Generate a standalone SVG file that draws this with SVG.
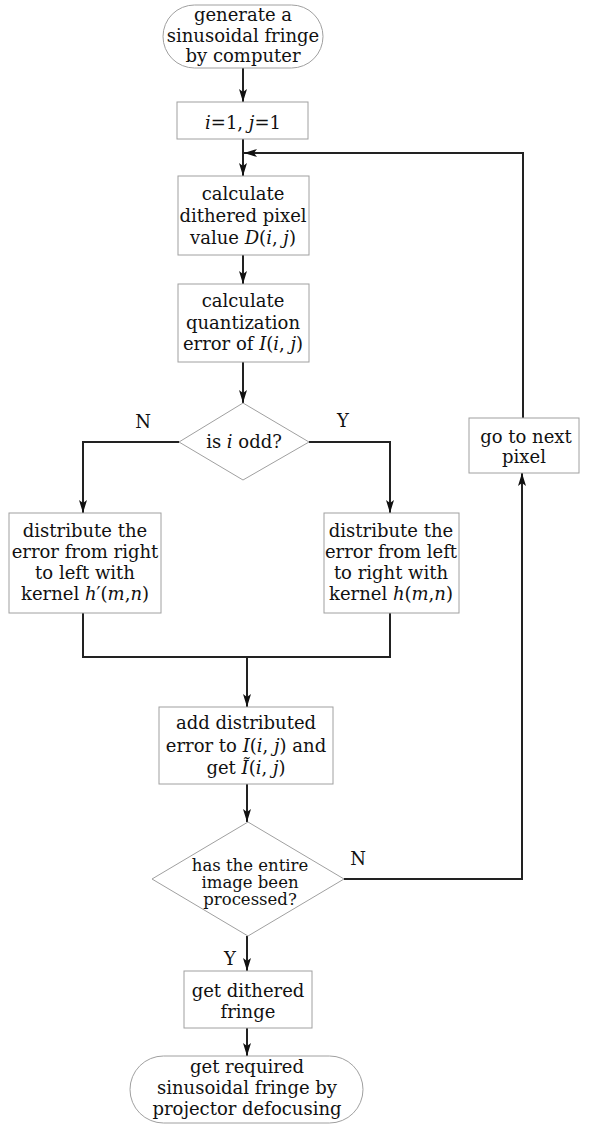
<svg xmlns="http://www.w3.org/2000/svg" width="604" height="1126" viewBox="0 0 604 1126">
<defs>
<style>
.n{fill:#fff;stroke:#a0a0a0;stroke-width:1}
.t{font-family:"DejaVu Serif","Liberation Serif",serif;font-size:18px;fill:#111;text-anchor:middle}
.s{font-size:16.5px}
.i{font-style:italic}
.c{fill:none;stroke:#222;stroke-width:2}
.lab{font-family:"DejaVu Serif","Liberation Serif",serif;font-size:18px;fill:#111;text-anchor:middle}
</style>
<marker id="ah" viewBox="0 0 13 8" refX="13" refY="4" markerWidth="13" markerHeight="8" orient="auto" markerUnits="userSpaceOnUse">
<path d="M0,0 L13,4 L0,8 L3,4 z" fill="#111"/>
</marker>
</defs>
<rect width="604" height="1126" fill="#fff"/>

<g id="connectors">
<path class="c" d="M243,68 V102" marker-end="url(#ah)"/>
<path class="c" d="M243,139 V176" marker-end="url(#ah)"/>
<path class="c" d="M243,255 V284" marker-end="url(#ah)"/>
<path class="c" d="M243,362 V403" marker-end="url(#ah)"/>
<path class="c" d="M179,442 H83 V513" marker-end="url(#ah)"/>
<path class="c" d="M309,442 H390 V513" marker-end="url(#ah)"/>
<path class="c" d="M83,613 V657 H390 V613"/>
<path class="c" d="M247,657 V707" marker-end="url(#ah)"/>
<path class="c" d="M247,784 V822" marker-end="url(#ah)"/>
<path class="c" d="M344,879 H522 V473" marker-end="url(#ah)"/>
<path class="c" d="M523,418 V153 H244" marker-end="url(#ah)"/>
<path class="c" d="M247,936 V971" marker-end="url(#ah)"/>
<path class="c" d="M247,1028 V1056" marker-end="url(#ah)"/>
<text class="lab" x="143" y="428">N</text>
<text class="lab" x="343" y="427">Y</text>
<text class="lab" x="358" y="865">N</text>
<text class="lab" x="230" y="965">Y</text>
</g>

<g id="start">
<rect class="n" x="163" y="5" width="160" height="63" rx="31.5"/>
<text class="t" x="243" y="21">generate a</text>
<text class="t" x="243" y="42">sinusoidal fringe</text>
<text class="t" x="243" y="62">by computer</text>
</g>

<g id="init">
<rect class="n" x="177" y="102" width="131" height="37"/>
<text class="t" x="243" y="129"><tspan class="i">i</tspan>=1, <tspan class="i">j</tspan>=1</text>
</g>

<g id="dither">
<rect class="n" x="178" y="176" width="131" height="79"/>
<text class="t" x="243" y="200">calculate</text>
<text class="t" x="243" y="222">dithered pixel</text>
<text class="t" x="243" y="244">value <tspan class="i">D</tspan>(<tspan class="i">i</tspan>, <tspan class="i">j</tspan>)</text>
</g>

<g id="quant">
<rect class="n" x="178" y="284" width="131" height="78"/>
<text class="t" x="243" y="307">calculate</text>
<text class="t" x="243" y="329">quantization</text>
<text class="t" x="243" y="350">error of <tspan class="i">I</tspan>(<tspan class="i">i</tspan>, <tspan class="i">j</tspan>)</text>
</g>

<g id="odd">
<polygon class="n" points="243,403 309,442 243,480 179,442"/>
<text class="t" x="244" y="448">is <tspan class="i">i</tspan> odd?</text>
</g>

<g id="rtl">
<rect class="n" x="9" y="513" width="152" height="100"/>
<text class="t" x="85" y="537">distribute the</text>
<text class="t" x="85" y="558">error from right</text>
<text class="t" x="85" y="579">to left with</text>
<text class="t" x="85" y="600">kernel <tspan class="i">h</tspan>′(<tspan class="i">m</tspan>,<tspan class="i">n</tspan>)</text>
</g>

<g id="ltr">
<rect class="n" x="324" y="513" width="135" height="100"/>
<text class="t" x="391" y="537">distribute the</text>
<text class="t" x="391" y="558">error from left</text>
<text class="t" x="391" y="579">to right with</text>
<text class="t" x="391" y="600">kernel <tspan class="i">h</tspan>(<tspan class="i">m</tspan>,<tspan class="i">n</tspan>)</text>
</g>

<g id="add">
<rect class="n" x="159" y="707" width="174" height="77"/>
<text class="t" x="246" y="729">add distributed</text>
<text class="t" x="246" y="752">error to <tspan class="i">I</tspan>(<tspan class="i">i</tspan>, <tspan class="i">j</tspan>) and</text>
<text class="t" x="246" y="774">get <tspan class="i">Ĩ</tspan>(<tspan class="i">i</tspan>, <tspan class="i">j</tspan>)</text>
</g>

<g id="done">
<polygon class="n" points="248,822 344,879 248,936 152,879"/>
<text class="t s" x="250" y="871">has the entire</text>
<text class="t s" x="250" y="888">image been</text>
<text class="t s" x="250" y="905">processed?</text>
</g>

<g id="next">
<rect class="n" x="469" y="418" width="110" height="55"/>
<text class="t" x="526" y="443">go to next</text>
<text class="t" x="524" y="463">pixel</text>
</g>

<g id="fringe">
<rect class="n" x="184" y="971" width="128" height="57"/>
<text class="t" x="248" y="997">get dithered</text>
<text class="t" x="248" y="1018">fringe</text>
</g>

<g id="end">
<rect class="n" x="130" y="1056" width="233" height="67" rx="33.5"/>
<text class="t" x="247" y="1073">get required</text>
<text class="t" x="247" y="1094">sinusoidal fringe by</text>
<text class="t" x="247" y="1115">projector defocusing</text>
</g>
</svg>
